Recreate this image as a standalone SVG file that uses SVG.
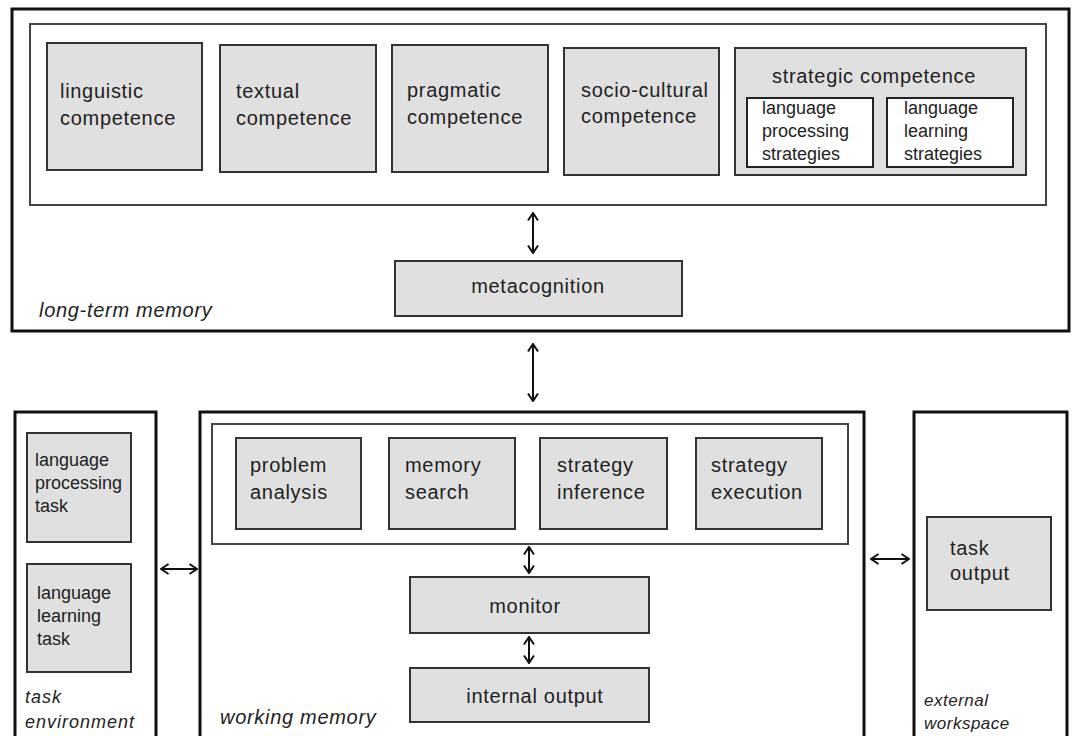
<svg xmlns="http://www.w3.org/2000/svg" width="1075" height="736" viewBox="0 0 1075 736">
<defs>
<style>
.outer{fill:#fff;stroke:#111;stroke-width:3}
.inner{fill:#fff;stroke:#444;stroke-width:2}
.box{fill:#e0e0e0;stroke:#333;stroke-width:2}
.wbox{fill:#fff;stroke:#222;stroke-width:2}
.t{font-family:"Liberation Sans",Arial,sans-serif;font-size:20px;letter-spacing:0.7px;fill:#222}
.s{font-family:"Liberation Sans",Arial,sans-serif;font-size:18px;fill:#222}
.lab{font-family:"Liberation Sans",Arial,sans-serif;font-size:20px;letter-spacing:0.7px;font-style:italic;fill:#222}
.slab{font-family:"Liberation Sans",Arial,sans-serif;font-size:18px;letter-spacing:1px;font-style:italic;fill:#222}
.xlab{font-family:"Liberation Sans",Arial,sans-serif;font-size:17px;letter-spacing:0.5px;font-style:italic;fill:#222}
.ar{stroke:#111;stroke-width:2;fill:none;marker-start:url(#ah);marker-end:url(#ah)}
</style>
<marker id="ah" viewBox="0 0 10 12" refX="9" refY="6" markerWidth="10" markerHeight="12" markerUnits="userSpaceOnUse" orient="auto-start-reverse">
<path d="M1.5,1 L9,6 L1.5,11" fill="none" stroke="#111" stroke-width="2"/>
</marker>
</defs>
<rect width="1075" height="736" fill="#fff"/>

<g id="long-term-memory">
<rect class="outer" x="12" y="9" width="1057" height="322"/>
<text class="lab" x="39" y="317">long-term memory</text>
</g>
<g id="competences">
<rect class="inner" x="30" y="24" width="1016" height="181"/>
</g>
<g id="linguistic">
<rect class="box" x="47" y="43" width="155" height="127"/>
<text class="t" x="60" y="98">linguistic</text>
<text class="t" x="60" y="125">competence</text>
</g>
<g id="textual">
<rect class="box" x="220" y="45" width="156" height="127"/>
<text class="t" x="236" y="98">textual</text>
<text class="t" x="236" y="125">competence</text>
</g>
<g id="pragmatic">
<rect class="box" x="392" y="45" width="156" height="127"/>
<text class="t" x="407" y="97">pragmatic</text>
<text class="t" x="407" y="124">competence</text>
</g>
<g id="socio-cultural">
<rect class="box" x="564" y="48" width="155" height="127"/>
<text class="t" x="581" y="97">socio-cultural</text>
<text class="t" x="581" y="123">competence</text>
</g>
<g id="strategic">
<rect class="box" x="735" y="48" width="291" height="127"/>
<text class="t" x="874" y="83" text-anchor="middle">strategic competence</text>
</g>
<g id="processing-strategies">
<rect class="wbox" x="747" y="98" width="126" height="69"/>
<text class="s" x="762" y="114">language</text>
<text class="s" x="762" y="137">processing</text>
<text class="s" x="762" y="160">strategies</text>
</g>
<g id="learning-strategies">
<rect class="wbox" x="887" y="98" width="126" height="69"/>
<text class="s" x="904" y="114">language</text>
<text class="s" x="904" y="137">learning</text>
<text class="s" x="904" y="160">strategies</text>
</g>
<g id="metacognition">
<rect class="box" x="395" y="261" width="287" height="55"/>
<text class="t" x="538" y="293" text-anchor="middle">metacognition</text>
</g>

<g id="task-environment">
<rect class="outer" x="15" y="412" width="141" height="340"/>
<text class="slab" x="25" y="703">task</text>
<text class="slab" x="25" y="728">environment</text>
</g>
<g id="processing-task">
<rect class="box" x="27" y="433" width="104" height="109"/>
<text class="s" x="35" y="466">language</text>
<text class="s" x="35" y="489">processing</text>
<text class="s" x="35" y="512">task</text>
</g>
<g id="learning-task">
<rect class="box" x="27" y="564" width="104" height="108"/>
<text class="s" x="37" y="599">language</text>
<text class="s" x="37" y="622">learning</text>
<text class="s" x="37" y="645">task</text>
</g>

<g id="working-memory">
<rect class="outer" x="200" y="412" width="664" height="340"/>
<text class="lab" x="220" y="724">working memory</text>
</g>
<g id="processes">
<rect class="inner" x="212" y="424" width="636" height="120"/>
</g>
<g id="problem-analysis">
<rect class="box" x="236" y="438" width="125" height="91"/>
<text class="t" x="250" y="472">problem</text>
<text class="t" x="250" y="499">analysis</text>
</g>
<g id="memory-search">
<rect class="box" x="389" y="438" width="126" height="91"/>
<text class="t" x="405" y="472">memory</text>
<text class="t" x="405" y="499">search</text>
</g>
<g id="strategy-inference">
<rect class="box" x="540" y="438" width="127" height="91"/>
<text class="t" x="557" y="472">strategy</text>
<text class="t" x="557" y="499">inference</text>
</g>
<g id="strategy-execution">
<rect class="box" x="696" y="438" width="126" height="91"/>
<text class="t" x="711" y="472">strategy</text>
<text class="t" x="711" y="499">execution</text>
</g>
<g id="monitor">
<rect class="box" x="410" y="577" width="239" height="56"/>
<text class="t" x="525" y="613" text-anchor="middle">monitor</text>
</g>
<g id="internal-output">
<rect class="box" x="410" y="668" width="239" height="54"/>
<text class="t" x="535" y="703" text-anchor="middle">internal output</text>
</g>

<g id="external-workspace">
<rect class="outer" x="914" y="412" width="153" height="340"/>
<text class="xlab" x="924" y="706">external</text>
<text class="xlab" x="924" y="729">workspace</text>
</g>
<g id="task-output">
<rect class="box" x="927" y="517" width="124" height="93"/>
<text class="t" x="950" y="555">task</text>
<text class="t" x="950" y="580">output</text>
</g>

<g id="connectors">
<line class="ar" x1="533" y1="213" x2="533" y2="253"/>
<line class="ar" x1="533" y1="344" x2="533" y2="401"/>
<line class="ar" x1="529" y1="547" x2="529" y2="573"/>
<line class="ar" x1="529" y1="637" x2="529" y2="663"/>
<line class="ar" x1="161" y1="569" x2="197" y2="569"/>
<line class="ar" x1="871" y1="559" x2="909" y2="559"/>
</g>
</svg>
